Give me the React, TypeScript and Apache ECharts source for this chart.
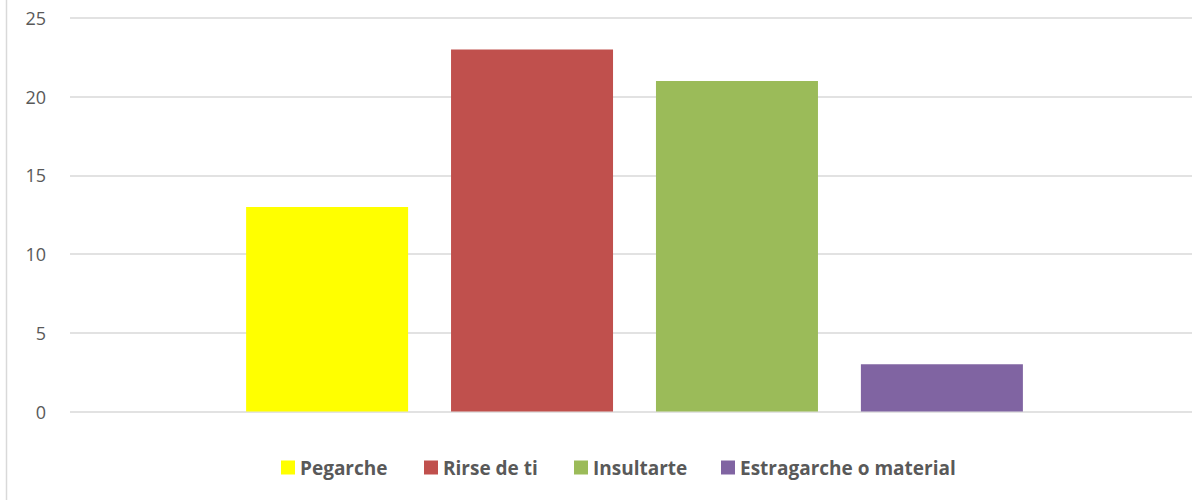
import React, { useEffect, useRef } from "react";
import * as echarts from "echarts";

const seriesNames = ["Pegarche", "Rirse de ti", "Insultarte", "Estragarche o material"];
const seriesValues = [13, 23, 21, 3];
const seriesColors = ["#FFFF00", "#C0504D", "#9BBB59", "#8064A2"];
const categories = [""];
const legendLefts = [276, 419, 569, 716];

export default function App() {
  const ref = useRef<HTMLDivElement>(null);
  useEffect(() => {
    if (!ref.current) return;
    const chart = echarts.init(ref.current, null, { renderer: "svg" });
    const font = "'Open Sans', 'Noto Sans', sans-serif";
    chart.setOption({
      animation: false,
      backgroundColor: "#ffffff",
      grid: {
        left: 70,
        top: 18,
        width: 1129,
        height: 393.5,
        containLabel: false,
        outerBoundsMode: "none",
      },
      xAxis: {
        type: "category",
        data: categories,
        axisLine: { show: false },
        axisTick: { show: false },
        axisLabel: { show: false },
      },
      yAxis: {
        type: "value",
        min: 0,
        max: 25,
        interval: 5,
        axisLine: { show: false },
        axisTick: { show: false },
        axisLabel: { color: "#595959", fontSize: 18, fontFamily: font, margin: 24 },
        splitLine: { lineStyle: { color: "#d9d9d9", width: 1.5 } },
      },
      legend: seriesNames.map((n, i) => ({
        data: [n],
        left: legendLefts[i],
        top: 453,
        itemWidth: 14,
        itemHeight: 14,
        icon: "rect",
        textStyle: { color: "#595959", fontSize: 19, fontWeight: "bold", fontFamily: font },
      })),
      graphic: [
        {
          type: "line",
          shape: { x1: 6.5, y1: 0, x2: 6.5, y2: 500 },
          style: { stroke: "#d9d9d9", lineWidth: 1.5 },
        },
      ],
      series: seriesNames.map((n, i) => ({
        name: n,
        type: "bar",
        data: [seriesValues[i]],
        barWidth: 162,
        barGap: "26.5%",
        itemStyle: { color: seriesColors[i] },
      })),
    });
    return () => chart.dispose();
  }, []);
  return (
    <div
      ref={ref}
      style={{ position: "fixed", left: 0, top: 0, width: 1192, height: 500 }}
    />
  );
}
